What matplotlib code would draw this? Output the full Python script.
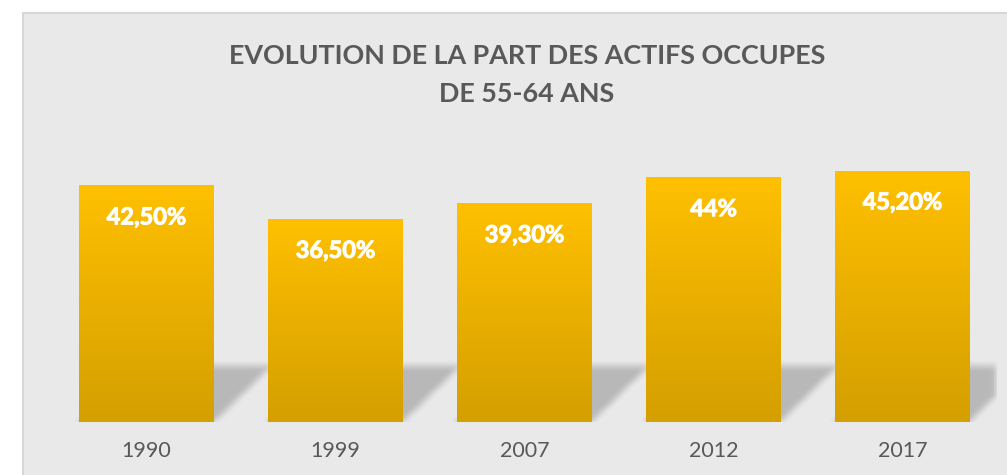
import numpy as np
import matplotlib
matplotlib.use("Agg")
import matplotlib.pyplot as plt
from matplotlib.patches import Rectangle
from matplotlib.colors import to_rgb
import matplotlib.patheffects as pe

years = ["1990", "1999", "2007", "2012", "2017"]
values = [42.5, 36.5, 39.3, 44.0, 45.2]
labels = ["42,50%", "36,50%", "39,30%", "44%", "45,20%"]
title = "EVOLUTION DE LA PART DES ACTIFS OCCUPES\nDE 55-64 ANS"

W, H, DPI = 1007, 475, 100
fig = plt.figure(figsize=(W / DPI, H / DPI), dpi=DPI)
fig.patch.set_facecolor("white")

bg = "#e9e9e9"
# chart area background with border
fig.patches.append(Rectangle((22.5 / W, -0.05), 1.2, 1 - 13.5 / H + 0.05,
                             transform=fig.transFigure, facecolor=bg,
                             edgecolor="#d6d6d6", linewidth=1.5, zorder=-5))

ax_left, ax_right = 52, 997
ax_base, ax_top = 422, 130
ax = fig.add_axes([ax_left / W, (H - ax_base) / H, (ax_right - ax_left) / W,
                   (ax_base - ax_top) / H])
ax.set_zorder(2)
ax.set_facecolor("none")
n = len(values)
x = np.arange(n)
bw = 0.714
px_per_unit = 5.553
ymax = (ax_base - ax_top) / px_per_unit
xmin, xmax = -0.5, n - 0.5

# perspective shadow image
sh_h = 11.3          # height of shadow in data units
fade = 2.4           # soft top edge (data units)
off = 0.34           # horizontal offset at top (data units)
nxp = ax_right - ax_left
ext_h = sh_h + 3
nyp = int(round(ext_h * px_per_unit))
xs = np.linspace(xmin, xmax, nxp)
ys = np.linspace(0, ext_h, nyp)
XX, YY = np.meshgrid(xs, ys)
mask = np.zeros_like(XX)
for xi in x:
    t = YY / sh_h
    l = xi - bw / 2 + off * t
    r = xi + bw / 2 + off * t
    inside = (XX >= l) & (XX <= r) & (YY <= sh_h) & (YY >= 0)
    mask[inside] = 1.0

def box_blur(a, k, axis):
    kern = np.ones(k) / k
    return np.apply_along_axis(lambda m: np.convolve(m, kern, mode="same"), axis, a)

mask = box_blur(mask, 11, 1)
mask = box_blur(mask, 5, 0)
mask = box_blur(mask, 7, 1)
topfade = np.clip((sh_h - YY) / fade, 0, 1)
topfade = topfade * topfade * (3 - 2 * topfade)
mask = mask * topfade
rgba = np.zeros(mask.shape + (4,))
rgba[..., 3] = mask * 0.21
ax.imshow(rgba, extent=[xmin, xmax, 0, ext_h], origin="lower",
          aspect="auto", zorder=1, interpolation="bilinear")

# gradient bars
top_c = np.array(to_rgb("#ffc000"))
bot_c = np.array(to_rgb("#d49f00"))
for xi, v in zip(x, values):
    g = np.linspace(0, 1, 256)[:, None]
    img = bot_c[None, None, :] * (1 - g[..., None]) + top_c[None, None, :] * g[..., None]
    ax.imshow(img, extent=[xi - bw / 2, xi + bw / 2, 0, v], origin="lower",
              aspect="auto", zorder=2, interpolation="bilinear")

for xi, v, lab in zip(x, values, labels):
    ax.annotate(lab, xy=(xi, v), xytext=(0, -31 * 72 / DPI),
                textcoords="offset points", ha="center", va="center",
                color="white", fontsize=17, fontweight="bold",
                family="Lato", zorder=3,
                path_effects=[pe.withStroke(linewidth=0.7, foreground="white")])

ax.set_xlim(xmin, xmax)
ax.set_ylim(0, ymax)
ax.set_xticks(x)
ax.set_xticklabels(years, family="Lato", fontsize=15.5, color="#595959")
ax.tick_params(axis="x", length=0, pad=14)
ax.set_yticks([])
for s in ax.spines.values():
    s.set_visible(False)

fig.text(527 / W, 1 - 75 / H, title, ha="center", va="center",
         family="Lato", fontweight="bold", fontsize=19.4, color="#595959",
         linespacing=1.65)

fig.savefig("out.png", dpi=DPI, facecolor=fig.get_facecolor())
